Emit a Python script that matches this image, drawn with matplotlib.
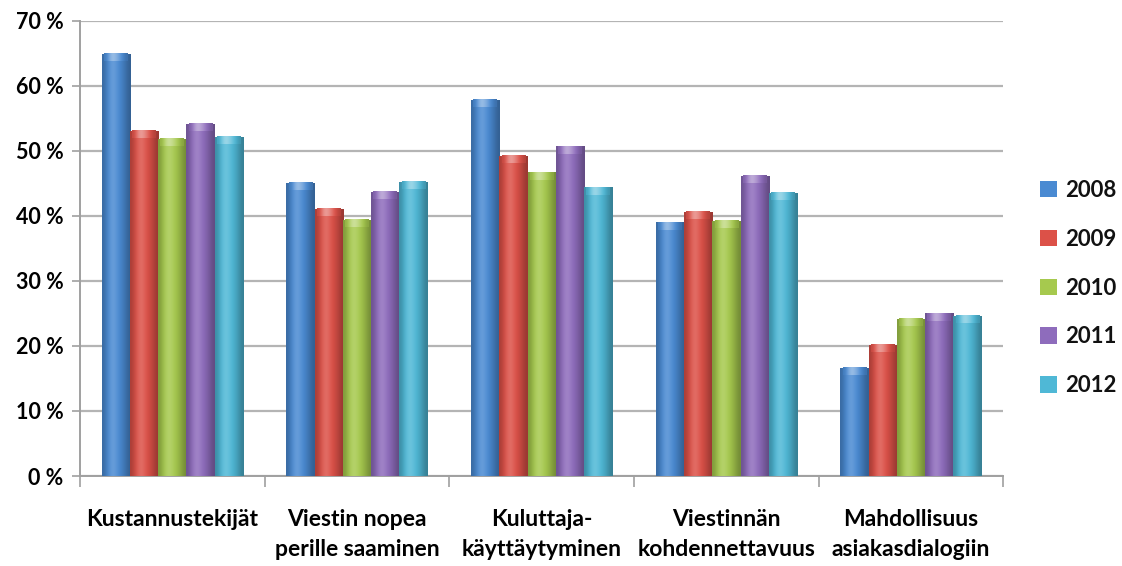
import numpy as np
import matplotlib.pyplot as plt
from matplotlib.colors import to_rgb
from matplotlib.patches import Patch

categories = [
    'Kustannustekijät',
    'Viestin nopea\nperille saaminen',
    'Kuluttaja-\nkäyttäytyminen',
    'Viestinnän\nkohdennettavuus',
    'Mahdollisuus\nasiakasdialogiin',
]
years = ['2008', '2009', '2010', '2011', '2012']
v2008 = [64.9, 45.1, 57.8, 39.0, 16.6]
v2009 = [53.1, 41.1, 49.2, 40.6, 20.2]
v2010 = [51.8, 39.4, 46.7, 39.3, 24.1]
v2011 = [54.2, 43.7, 50.7, 46.2, 25.0]
v2012 = [52.2, 45.3, 44.4, 43.5, 24.6]
series = [v2008, v2009, v2010, v2011, v2012]
colors = ['#4a8ad2', '#dc5148', '#a6c94e', '#8e6cbc', '#4fb8d6']

plt.rcParams['font.family'] = ['Lato', 'DejaVu Sans']
plt.rcParams['font.weight'] = 'bold'
plt.rcParams['text.color'] = '#111111'

fig = plt.figure(figsize=(11.22, 5.66), dpi=100)
ax = fig.add_axes([0.0713, 0.159, 0.823, 0.804])

x = np.arange(len(categories))
width = 0.153
shade = np.array([0.78, 0.92, 1.04, 1.08, 1.04, 0.98, 0.9, 0.8, 0.7])


def shaded(c, f):
    rgb = np.array(to_rgb(c))
    out = np.where(f > 1, rgb + (1 - rgb) * (f - 1) * 2.2, rgb * f)
    return np.clip(out, 0, 1)


for i, (vals, c) in enumerate(zip(series, colors)):
    xs = x + (i - 2) * width
    bars = ax.bar(xs, vals, width, color=c, zorder=3, linewidth=0)
    body = np.array([shaded(c, f) for f in shade])[None, :, :]
    cap = np.array([shaded(c, f + 0.12) for f in shade])[None, :, :]
    for b, v in zip(bars, vals):
        x0 = b.get_x()
        im = ax.imshow(body, extent=(x0, x0 + width, 0, v), aspect='auto',
                       interpolation='bicubic', zorder=4)
        im.set_clip_path(b)
        # lighter bevel on the top of each bar
        ax.imshow(cap, extent=(x0 + width * 0.08, x0 + width * 0.92, v - 1.1, v),
                  aspect='auto', interpolation='bicubic', zorder=5)

ax.set_xlim(-0.5, len(categories) - 0.5)
ax.set_ylim(0, 70)
ax.set_yticks(np.arange(0, 71, 10))
ax.set_yticklabels([f'{t} %' for t in range(0, 71, 10)], fontsize=15.5)
ax.yaxis.grid(True, color='#b4b4b4', linewidth=1.6, zorder=0)
ax.set_axisbelow(True)

ax.set_xticks(x)
ax.set_xticklabels(categories, fontsize=16.5, linespacing=1.5)
ax.tick_params(axis='x', length=0, pad=24)
ax.set_xticks(np.arange(-0.5, len(categories)), minor=True)
ax.tick_params(axis='x', which='minor', length=8, color='#a0a0a0', width=1.2)
ax.tick_params(axis='y', length=6, color='#a0a0a0', width=1.2, pad=6)

for s in ['top', 'right']:
    ax.spines[s].set_visible(False)
for s in ['left', 'bottom']:
    ax.spines[s].set_color('#a0a0a0')
    ax.spines[s].set_linewidth(1.4)

handles = [Patch(facecolor=c, edgecolor='none') for c in colors]
fig.legend(handles, years, loc='center left', bbox_to_anchor=(0.909, 0.491),
           frameon=False, fontsize=16, handlelength=0.75, handleheight=0.75,
           handletextpad=0.4, labelspacing=1.25)

fig.savefig('out.png', dpi=100)
